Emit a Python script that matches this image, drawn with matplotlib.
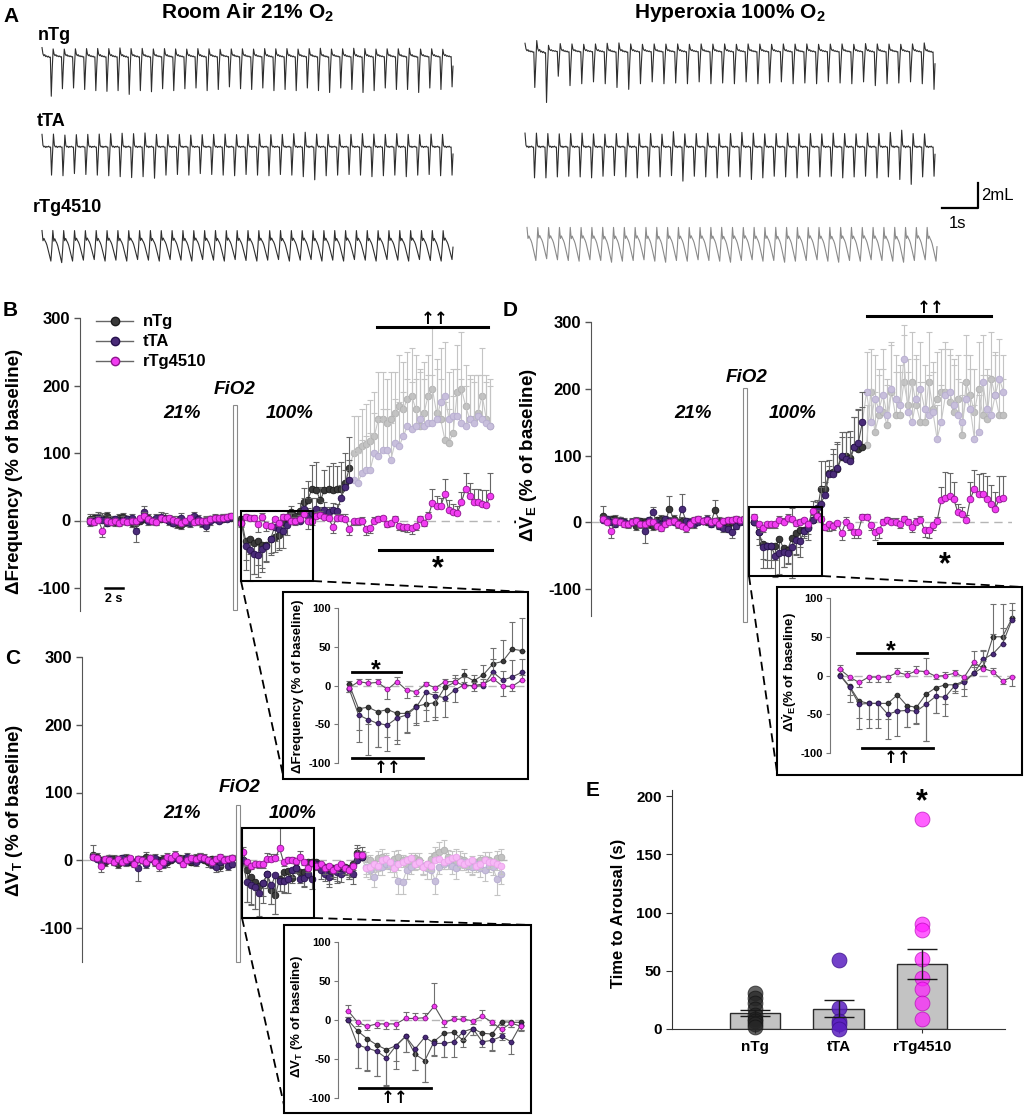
import numpy as np
import matplotlib
matplotlib.use("Agg")
import matplotlib.pyplot as plt
from matplotlib.lines import Line2D
from matplotlib.patches import Rectangle

plt.rcParams["font.family"] = ["Liberation Sans", "DejaVu Sans"]
plt.rcParams["font.weight"] = "bold"
plt.rcParams["axes.unicode_minus"] = False
plt.rcParams["mathtext.fontset"] = "custom"
plt.rcParams["mathtext.rm"] = "Liberation Sans:bold"
plt.rcParams["mathtext.bf"] = "Liberation Sans:bold"
plt.rcParams["mathtext.it"] = "Liberation Sans:bold:italic"

# ---------------- data ----------------
groups = ["nTg", "tTA", "rTg4510"]

# panel A: one-breath shapes and breath depths read per trace
tpl_ntg = [0.18, 0.03, -0.02, 0.01, -0.04, -0.02, -0.05, -0.03, -0.06, -0.05, -1.0, -0.35]
tpl_tta = [0.45, 0.06, 0.0, 0.03, -0.02, 0.02, 0.0, 0.03, -0.01, 0.0, -1.0, -0.25]
tpl_rtg = [0.05, -0.3, -0.22, -0.3, -0.36, -0.45, -0.58, -0.72, -0.86, -1.0, -0.55]
ra_ntg_depth = [1.1, 0.9, 0.88, 0.92, 0.95, 0.97, 0.95, 1.05, 0.95, 0.98, 0.9, 0.95, 0.9, 0.88, 0.95, 0.92,
                0.85, 0.9, 0.92, 0.88, 0.95, 0.92, 0.95, 0.88, 0.95, 1.0, 0.88, 0.92, 1.0, 0.95, 0.88, 0.92,
                0.92, 1.0, 0.88, 0.92, 0.85]
ra_tta_depth = [0.9, 0.92, 0.85, 0.88, 0.9, 0.92, 0.95, 0.98, 0.95, 1.0, 0.9, 0.88, 0.9, 0.85, 0.88, 0.9,
                0.92, 0.88, 0.9, 0.92, 0.88, 0.9, 0.95, 1.05, 0.92, 0.9, 0.88, 0.9, 0.95, 0.92, 0.9, 0.95,
                0.9, 0.88, 0.92, 0.9]
ra_rtg_depth = [0.95, 1.0, 0.95, 0.92, 0.9, 0.95, 0.92, 0.95, 0.9, 0.92, 0.95, 0.9, 0.92, 0.95, 0.9, 0.92,
                0.95, 0.9, 0.93, 0.95, 0.92, 0.9, 0.95, 0.92, 0.9, 0.95, 0.92, 0.95, 0.9, 0.92, 0.95, 0.9,
                0.92, 0.95, 0.9, 0.93, 0.95, 0.9]
ho_ntg_depth = [1.0, 1.4, 0.7, 0.95, 0.9, 0.85, 0.9, 1.0, 1.05, 0.9, 0.85, 0.9, 0.88, 0.9, 0.85, 0.9,
                0.88, 0.9, 0.85, 0.9, 0.88, 0.85, 0.9, 0.88, 0.9, 0.85, 0.88, 0.9, 0.85, 0.95, 0.9, 0.88,
                0.85, 0.9, 1.05]
ho_tta_depth = [0.95, 0.95, 0.92, 0.9, 0.92, 0.95, 0.9, 0.88, 0.92, 0.95, 0.9, 0.92, 0.88, 1.05, 0.9, 0.92,
                0.95, 0.9, 0.92, 1.0, 0.95, 0.9, 0.92, 0.95, 0.9, 0.92, 0.9, 0.95, 0.92, 0.9, 0.95, 0.92,
                1.0, 1.15, 0.92, 0.9]
ho_rtg_depth = [0.9, 0.85, 0.88, 0.9, 0.92, 0.88, 0.9, 0.95, 0.92, 0.9, 0.88, 0.92, 0.95, 0.9, 0.92, 0.88,
                0.9, 0.92, 0.95, 0.9, 0.88, 0.92, 0.9, 0.95, 0.92, 0.9, 0.88, 0.92, 0.95, 0.9, 0.92, 0.88,
                0.9, 0.92, 0.95, 0.9, 0.88, 0.92]

# panel B: delta frequency (% of baseline)
freq_base_ntg = [2, 4, 5, 3, 6, 0, -2, 3, 5, 2, -3, -4, 0, 2, 3, 0, -1, 2, 4, 0, -3, -5, -6, -2, 0, 2, -1, -3, 0, 2, 3, 1, 2, 4, 3]
freq_base_tta = [-2, 0, 3, 1, -3, 0, 2, -1, 0, 2, 4, -15, 2, 13, -1, 0, 3, 5, 2, -1, -3, 0, 4, -2, -4, 6, 2, -3, -8, -1, 2, 0, 3, 2, 5]
freq_base_rtg = [0, -2, 1, -15, 0, -2, 0, -3, -1, -2, 0, -1, 3, 6, 2, 0, -2, 3, 2, 4, 1, 0, -3, -1, 3, -2, -1, 0, 0, 2, 3, 3, 4, 5, 6]
freq_base_err_ntg = [8, 6, 7, 8, 6, 5, 6, 7, 6, 5, 6, 7, 5, 6, 7, 5, 6, 5, 7, 6, 5, 6, 7, 6, 5, 6, 5, 6, 7, 5, 6, 7, 5, 6, 7]
freq_base_err_tta = [6, 5, 6, 7, 5, 6, 5, 6, 7, 5, 6, 17, 5, 8, 6, 5, 6, 7, 5, 6, 5, 6, 7, 5, 6, 7, 6, 5, 7, 6, 5, 6, 7, 5, 6]
freq_base_err_rtg = [5, 4, 5, 10, 4, 5, 4, 5, 4, 5, 4, 5, 4, 6, 5, 4, 5, 4, 5, 4, 5, 4, 5, 4, 5, 4, 5, 4, 5, 4, 5, 4, 5, 4, 5]
freq_zoom_ntg = [2, -30, -28, -34, -31, -36, -36, -27, -24, -22, -2, 4, 13, 6, 14, 28, 31, 47, 45]
freq_zoom_tta = [-4, -38, -44, -49, -51, -42, -38, -28, -9, -13, -16, -6, 1, -1, 0, 17, 7, 11, 17]
freq_zoom_rtg = [-3, 5, 3, 4, -5, 5, -6, -8, 2, -3, 5, 5, 0, 0, 2, 9, -1, -1, 7]
freq_zoom_err_ntg = [4, 43, 22, 45, 35, 40, 25, 24, 22, 22, 18, 10, 8, 8, 12, 20, 28, 35, 42]
freq_zoom_err_tta = [5, 20, 46, 30, 33, 28, 22, 20, 22, 28, 25, 15, 10, 6, 5, 17, 12, 22, 17]
freq_zoom_err_rtg = [5, 4, 5, 4, 12, 6, 10, 5, 3, 5, 4, 5, 5, 5, 6, 6, 12, 6, 6]
freq_after_ntg = [30, 45, 46, 45, 46, 47, 55, 78, 100, 105, 110, 113, 118, 125, 150, 150, 145, 150, 160, 170, 165,
                  180, 185, 165, 140, 160, 185, 195, 160, 150, 120, 115, 130, 190, 195, 170, 150, 150, 160, 185, 150, 140]
freq_after_tta = [10, 15, 12, 16, 14, 33, 50, 60, 60, 55, 70, 75, 75, 100, 95, 105, 105, 90, 115, 110, 125,
                  140, 135, 140, 150, 140, 145, 145, 150, 175, 185, 150, 155, 155, 145, 140, 150, 145, 155, 150, 145, 140]
freq_after_rtg = [8, 5, 3, -9, 4, 4, 2, -12, -1, -1, 0, -12, -11, 0, 2, 3, -5, -3, 2, -8, -9,
                  -9, -11, -8, 2, -3, 6, 26, 22, 21, 39, 15, 13, 11, 27, 47, 36, 28, 28, 25, 23, 37]
freq_after_err_ntg = [20, 30, 35, 40, 35, 40, 45, 45, 55, 50, 55, 60, 60, 65, 70, 70, 65, 70, 60, 75, 70,
                      70, 70, 80, 80, 75, 60, 90, 80, 60, 55, 50, 55, 70, 85, 60, 60, 65, 55, 70, 65, 70]
freq_after_err_tta = [10, 12, 8, 10, 10, 20, 25, 30, 45, 45, 50, 50, 55, 60, 55, 60, 60, 55, 65, 65, 65,
                      70, 70, 70, 75, 70, 70, 70, 75, 80, 80, 70, 70, 70, 65, 60, 65, 60, 60, 65, 60, 60]
freq_after_err_rtg = [6, 5, 5, 10, 6, 6, 8, 10, 5, 5, 5, 10, 8, 5, 5, 4, 5, 5, 5, 6, 7,
                      8, 9, 6, 5, 5, 6, 20, 15, 12, 22, 15, 12, 10, 15, 23, 20, 18, 18, 20, 22, 33]

# panel C: delta tidal volume (% of baseline)
vt_base_ntg = [8, 5, 0, -3, 3, 2, -5, 0, 3, -2, -3, 2, 0, 5, 3, -2, 0, 2, -3, 0, 5, 3, 2, 0, -2, 3, 5, 0, -3, 2, -5, -8, 2, 0, 3]
vt_base_tta = [5, 2, -3, 0, 2, -2, 0, 3, -2, 0, -3, -12, 0, -5, 2, 3, -2, -5, 0, 2, 3, 0, -2, 5, 0, -3, 2, 3, 0, -5, -10, -3, 0, -8, -5]
vt_base_rtg = [5, 3, -8, 2, 0, -3, 2, -2, 0, 3, -5, 2, 0, -2, 3, -3, -8, -2, 5, 3, 8, 2, -5, 0, 3, 2, 5, 3, 0, -3, 2, 5, 0, 2, 3]
vt_base_err_ntg = [15, 6, 5, 6, 5, 6, 7, 5, 6, 5, 6, 5, 6, 7, 5, 6, 5, 6, 7, 5, 6, 5, 6, 7, 5, 6, 5, 6, 7, 5, 6, 8, 5, 6, 5]
vt_base_err_tta = [6, 5, 6, 5, 6, 5, 6, 5, 6, 5, 6, 18, 5, 6, 5, 6, 5, 6, 5, 6, 5, 6, 5, 6, 5, 6, 5, 6, 5, 6, 7, 5, 6, 7, 5]
vt_base_err_rtg = [5, 4, 10, 4, 5, 4, 5, 4, 5, 4, 5, 4, 5, 4, 5, 4, 8, 4, 5, 4, 5, 4, 5, 4, 5, 4, 5, 4, 5, 4, 5, 4, 5, 4, 5]
vt_zoom_ntg = [0, -14, -24, -32, -38, -33, -21, -44, -52, -27, -17, -16, -26, -11, -17, -18, -2, -3, -3]
vt_zoom_tta = [0, -32, -36, -40, -49, -33, -21, -37, -22, -30, -30, -28, -15, -11, -28, -26, -21, -28, -6]
vt_zoom_rtg = [12, -3, -8, -5, -5, -5, 2, 2, 3, 18, -3, 1, 1, -1, 5, -3, -12, -4, -8]
vt_zoom_err_ntg = [4, 48, 40, 40, 45, 30, 20, 20, 28, 18, 30, 12, 8, 8, 10, 22, 5, 6, 10]
vt_zoom_err_tta = [4, 30, 30, 32, 35, 20, 20, 27, 58, 16, 18, 20, 10, 8, 6, 12, 5, 15, 8]
vt_zoom_err_rtg = [7, 5, 5, 5, 6, 7, 8, 7, 6, 30, 6, 4, 4, 4, 8, 4, 5, 5, 5]
vt_after_ntg = [-8, -10, -20, -12, -15, -8, -10, -12, -5, 10, 5, 2, 0, -5, 3, 5, 0, -3, 2, 5, 0, -5, -2,
                3, 0, -8, -5, 2, 8, 12, 15, 5, 0, -3, 2, 0, -5, -8, -3, 0, 2, 0, -3, 3, 5]
vt_after_tta = [-15, -20, -25, -15, -18, -20, -12, -15, -20, 0, 5, -10, -15, -25, -12, -10, -5, -8, -5, -30, -32, -15,
                -10, -5, -3, -8, -12, -15, -30, -10, -5, -3, -8, -12, -5, -3, -8, -10, -5, -12, -15, -8, -10, -27, -20]
vt_after_rtg = [-5, -12, -8, -15, -10, -5, -12, -15, -8, 8, 8, -12, -10, -5, -8, 0, 2, -3, -12, -5, -2, 0, 3,
                -5, -2, -10, -5, -8, 0, 2, -3, 0, 3, 5, -2, -5, -3, 0, -8, -5, 0, -3, -2, -5, -8]
vt_after_err_ntg = [8, 10, 15, 12, 15, 10, 12, 15, 20, 12, 8, 10, 8, 12, 10, 12, 8, 10, 12, 10, 8, 12, 10,
                    8, 10, 12, 10, 8, 12, 15, 15, 10, 8, 10, 12, 10, 8, 12, 10, 8, 10, 12, 8, 10, 12]
vt_after_err_tta = [12, 10, 15, 12, 15, 12, 10, 12, 15, 10, 8, 10, 12, 15, 10, 12, 8, 10, 12, 20, 18, 12,
                    10, 8, 10, 12, 15, 12, 20, 10, 8, 10, 12, 15, 10, 8, 10, 12, 10, 12, 15, 10, 12, 25, 15]
vt_after_err_rtg = [5, 8, 6, 10, 8, 6, 8, 10, 6, 10, 12, 12, 10, 8, 8, 6, 8, 8, 12, 10, 8, 6, 8,
                    10, 8, 12, 10, 8, 6, 8, 10, 8, 10, 12, 8, 10, 8, 6, 10, 8, 6, 8, 6, 10, 12]

# panel D: delta minute ventilation (% of baseline)
ve_base_ntg = [10, 3, 5, 5, 3, 0, -2, 0, -5, 2, 0, -3, -5, 3, 5, 0, 20, 5, 0, 2, -3, -2, 0, 3, 2, 0, 0, 18, 2, -2, -5, 0, 3, 2, 0]
ve_base_tta = [3, 5, 0, -2, 2, 0, -3, 0, 2, -3, -13, 3, 15, 0, -2, 5, 2, 0, -3, 20, 2, 0, -3, 0, 2, 5, -2, 0, -5, -8, -10, -15, -5, 0, 2]
ve_base_rtg = [5, 0, -13, 2, 0, -3, -2, 0, 2, -3, -2, 0, 0, -5, -8, -3, 0, 2, -2, -5, -8, -3, 3, 5, 2, 3, 0, 2, -2, 2, 3, 4, 5, 3, 5]
ve_base_err_ntg = [15, 6, 5, 6, 5, 6, 5, 6, 7, 5, 6, 5, 6, 5, 6, 5, 20, 6, 5, 6, 5, 6, 5, 6, 5, 6, 5, 15, 6, 5, 6, 5, 6, 5, 6]
ve_base_err_tta = [6, 5, 6, 5, 6, 5, 6, 5, 6, 5, 18, 5, 8, 5, 6, 5, 6, 5, 6, 22, 5, 6, 5, 6, 5, 6, 5, 6, 5, 6, 5, 8, 5, 6, 5]
ve_base_err_rtg = [5, 4, 10, 4, 5, 4, 5, 4, 5, 4, 5, 4, 5, 4, 5, 4, 5, 4, 5, 4, 6, 4, 5, 4, 5, 4, 5, 4, 5, 4, 5, 4, 5, 4, 5]
ve_zoom_ntg = [1, -14, -33, -36, -36, -36, -25, -39, -41, -24, -16, -12, -12, -7, 3, 11, 50, 50, 74]
ve_zoom_tta = [0, -15, -37, -36, -36, -50, -46, -45, -46, -37, -27, -28, -13, -9, 3, 21, 28, 41, 72]
ve_zoom_rtg = [8, -2, -9, -2, -2, -2, 4, 1, 6, 5, -1, 0, 3, -2, 17, 9, 5, -7, -2]
ve_zoom_err_ntg = [6, 20, 22, 20, 20, 20, 20, 28, 20, 60, 32, 25, 8, 20, 10, 20, 42, 42, 20]
ve_zoom_err_tta = [8, 10, 32, 32, 32, 32, 32, 22, 17, 47, 22, 24, 10, 8, 8, 12, 25, 20, 12]
ve_zoom_err_rtg = [5, 4, 6, 6, 6, 7, 6, 5, 6, 17, 4, 5, 4, 4, 15, 10, 5, 4, 11]
ve_after_ntg = [75, 80, 98, 100, 97, 113, 110, 112, 115, 195, 135, 160, 165, 145, 195, 160, 160, 210, 175, 210, 175,
                150, 150, 210, 170, 185, 195, 195, 180, 165, 185, 130, 210, 190, 165, 200, 160, 155, 215, 190, 160, 160]
ve_after_tta = [72, 82, 100, 95, 92, 112, 118, 150, 195, 150, 185, 170, 190, 160, 200, 185, 175, 245, 165, 150, 185,
                200, 170, 160, 165, 125, 150, 190, 195, 175, 160, 150, 185, 170, 125, 135, 210, 170, 160, 190, 215, 195]
ve_after_rtg = [-6, -1, -16, 0, -6, -14, -14, 8, 8, -4, -14, -12, 0, 3, 1, 1, -2, 5, 0, -7, 1,
                4, -12, -12, -4, 2, 33, 37, 39, 35, 15, 13, 3, 35, 50, 43, 42, 35, 28, 20, 35, 36]
ve_after_err_ntg = [35, 40, 30, 35, 40, 45, 60, 60, 60, 65, 60, 60, 65, 60, 70, 65, 65, 70, 70, 75, 70,
                    60, 60, 75, 70, 70, 65, 75, 70, 70, 65, 60, 70, 60, 65, 70, 60, 65, 70, 60, 55, 55]
ve_after_err_tta = [30, 35, 35, 40, 35, 45, 50, 45, 60, 50, 65, 60, 70, 55, 70, 65, 60, 50, 60, 55, 65,
                    70, 65, 60, 60, 50, 55, 70, 65, 70, 55, 60, 65, 60, 50, 55, 70, 60, 55, 65, 60, 55]
ve_after_err_rtg = [6, 5, 10, 8, 6, 10, 10, 5, 5, 8, 12, 12, 5, 5, 5, 5, 6, 5, 5, 8, 6,
                    5, 10, 12, 8, 6, 20, 38, 35, 25, 12, 10, 8, 25, 28, 30, 32, 35, 28, 25, 35, 33]

# panel E: time to arousal (s)
arousal_ntg = [31, 27, 22, 17, 12, 9, 7, 4, 2]
arousal_tta = [59, 18, 7, 4, 0]
arousal_rtg = [180, 90, 85, 60, 44, 34, 22, 9]
arousal_mean = [14, 17.5, 56]
arousal_sem = [2.5, 7.5, 13]

# ---------------- layout helpers ----------------
W, H = 1024, 1115
fig = plt.figure(figsize=(W / 100, H / 100), dpi=100)


def fx(px):
    return px / W


def fy(py):
    return 1 - py / H


def px_axes(x0, y0, x1, y1):
    return fig.add_axes([fx(x0), fy(y1), (x1 - x0) / W, (y1 - y0) / H])


def fig_line(xs, ys, **kw):
    fig.add_artist(Line2D([fx(v) for v in xs], [fy(v) for v in ys], **kw))


def fig_rect(x0, y0, x1, y1, **kw):
    fig.add_artist(Rectangle((fx(x0), fy(y1)), (x1 - x0) / W, (y1 - y0) / H,
                             transform=fig.transFigure, **kw))


def fig_text(px, py, s, **kw):
    fig.text(fx(px), fy(py), s, **kw)


def y_limits(top_px, bot_px, v_hi, px_hi, v_lo, px_lo):
    scale = (px_lo - px_hi) / (v_hi - v_lo)
    return v_lo - (bot_px - px_lo) / scale, v_hi + (px_hi - top_px) / scale


FULL = {"nTg": ("#3a3a3a", "#1c1c1c"), "tTA": ("#4a2b78", "#26104d"), "rTg4510": ("#f23cf2", "#8e158e")}
FADED = {"nTg": ("#c2c2c2", "#b0b0b0"), "tTA": ("#c8bfdc", "#b6acd0"), "rTg4510": ("#f7b8f7", "#eaa2ea")}


def draw_group(ax, x, y, e, face, edge, ms, cap, z, lc, ec, line_from=None):
    x = np.asarray(x, float)
    y = np.asarray(y, float)
    e = np.asarray(e, float)
    lo = np.where(y < 0, e, 0)
    hi = np.where(y >= 0, e, 0)
    ax.errorbar(x, y, yerr=[lo, hi], fmt="none", ecolor=ec, elinewidth=0.8,
                capsize=cap, capthick=0.8, zorder=z)
    if line_from is not None:
        ax.plot(np.r_[line_from[0], x], np.r_[line_from[1], y], "-", color=lc, lw=0.8, zorder=z + 0.1)
    else:
        ax.plot(x, y, "-", color=lc, lw=0.8, zorder=z + 0.1)
    ax.plot(x, y, "o", ms=ms, mfc=face, mec=edge, mew=0.6, zorder=z + 0.2)


def time_panel(ax, base, base_err, zoom, zoom_err, after, after_err, fade):
    ax.axhline(0, color="#b5b5b5", lw=1, ls=(0, (6, 4)), zorder=1)
    hyp = [list(z) + list(a) for z, a in zip(zoom, after)]
    hyp_err = [list(z) + list(a) for z, a in zip(zoom_err, after_err)]
    for g, name in enumerate(groups):
        k = fade[g]
        xh = 36.5 + np.arange(len(hyp[g]))
        if k < len(hyp[g]):
            face, edge = FADED[name]
            draw_group(ax, xh[k:], hyp[g][k:], hyp_err[g][k:], face, edge, 4.8, 2.2, 2 + 0.3 * g,
                       "#c8c8c8", "#c4c4c4", line_from=(xh[k - 1], hyp[g][k - 1]))
    for g, name in enumerate(groups):
        k = fade[g]
        face, edge = FULL[name]
        xb = np.arange(len(base[g]))
        xh = 36.5 + np.arange(len(hyp[g]))
        draw_group(ax, xb, base[g], base_err[g], face, edge, 4.8, 2.2, 3 + g, "#555555", "#666666")
        draw_group(ax, xh[:k], hyp[g][:k], hyp_err[g][:k], face, edge, 4.8, 2.2, 3 + g, "#555555", "#666666")
    for side in ["top", "right", "bottom"]:
        ax.spines[side].set_visible(False)
    ax.spines["left"].set_color("#555555")
    ax.set_xticks([])
    ax.set_yticks([-100, 0, 100, 200, 300])
    ax.tick_params(axis="y", labelsize=12, length=4, width=1, color="#555555", pad=3)
    ax.patch.set_alpha(0)


def inset_panel(left, right, px100, pxm100, x0_px, dx_px, vals, errs):
    ax = px_axes(left, px100 - 10, right, pxm100 + 10)
    ax.set_ylim(*y_limits(px100 - 10, pxm100 + 10, 100, px100, -100, pxm100))
    ax.set_xlim((left - x0_px) / dx_px, (right - x0_px) / dx_px)
    ax.plot([0, 20], [0, 0], color="#b5b5b5", lw=1, ls=(0, (6, 4)), zorder=1)
    xs = np.arange(len(vals[0]))
    for g, name in enumerate(groups):
        face, edge = FULL[name]
        draw_group(ax, xs, vals[g], errs[g], face, edge, 3.4, 2.0, 3 + g, "#555555", "#707070")
    for side in ["top", "right", "bottom"]:
        ax.spines[side].set_visible(False)
    ax.spines["left"].set_color("#777777")
    ax.spines["left"].set_bounds(-100, 100)
    ax.set_xticks([])
    ax.set_yticks([-100, -50, 0, 50, 100])
    ax.tick_params(axis="y", labelsize=8, length=3, width=0.8, color="#777777", pad=2)
    ax.patch.set_alpha(0)
    return ax


BIG = dict(fontsize=13.5, fontweight="bold", rotation=90, ha="center", va="center")
SMALL = dict(fontsize=9.5, fontweight="bold", rotation=90, ha="center", va="center")
ITAL = dict(fontsize=13.5, fontweight="bold", style="italic", ha="center", va="center")
ARROWS = dict(fontsize=12, fontweight="bold", ha="center", family=["DejaVu Sans"])

# ---------------- panel A ----------------
ax_a = px_axes(0, 0, W, 290)
ax_a.set_xlim(0, W / 36)
ax_a.set_ylim(-290 / 12.5, 0)
ax_a.axis("off")

traces = [
    (42, 453, 55, tpl_ntg, ra_ntg_depth, 3.0, "#2e2e2e"),
    (42, 453, 147, tpl_tta, ra_tta_depth, 2.5, "#2e2e2e"),
    (42, 453, 232, tpl_rtg, ra_rtg_depth, 2.45, "#2e2e2e"),
    (525, 935, 50, tpl_ntg, ho_ntg_depth, 3.0, "#2e2e2e"),
    (525, 935, 147, tpl_tta, ho_tta_depth, 2.6, "#2e2e2e"),
    (527, 937, 229, tpl_rtg, ho_rtg_depth, 2.8, "#8a8a8a"),
]
for x0, x1, py, tpl, depths, amp, col in traces:
    y = np.concatenate([np.asarray(tpl) * d for d in depths]) * amp - py / 12.5
    x = np.linspace(x0 / 36, x1 / 36, len(y))
    ax_a.plot(x, y, color=col, lw=0.8)

ax_a.plot([942 / 36, 978 / 36, 978 / 36], [-208 / 12.5, -208 / 12.5, -208 / 12.5 + 2], color="black", lw=1.6)
fig_text(981, 196, "2mL", fontsize=12, fontweight="normal", va="center")
fig_text(958, 223, "1s", fontsize=12, fontweight="normal", ha="center", va="center")
fig_text(3, 16, "A", fontsize=15, va="center")
fig_text(248, 13, r"Room Air 21% O$_\mathbf{2}$", fontsize=15, ha="center", va="center")
fig_text(730, 13, r"Hyperoxia 100% O$_\mathbf{2}$", fontsize=15, ha="center", va="center")
fig_text(38, 36, "nTg", fontsize=13, va="center")
fig_text(37, 121, "tTA", fontsize=13, va="center")
fig_text(33, 208, "rTg4510", fontsize=13, va="center")

# ---------------- panel B ----------------
ax_b = px_axes(80, 300, 500, 612)
ax_b.set_ylim(*y_limits(300, 612, 300, 318, -100, 588))
ax_b.set_xlim((80 - 90) / 4.15, (500 - 90) / 4.15)
time_panel(ax_b,
           [freq_base_ntg, freq_base_tta, freq_base_rtg],
           [freq_base_err_ntg, freq_base_err_tta, freq_base_err_rtg],
           [freq_zoom_ntg, freq_zoom_tta, freq_zoom_rtg],
           [freq_zoom_err_ntg, freq_zoom_err_tta, freq_zoom_err_rtg],
           [freq_after_ntg, freq_after_tta, freq_after_rtg],
           [freq_after_err_ntg, freq_after_err_tta, freq_after_err_rtg],
           fade=[27, 27, 99])
ax_b.spines["left"].set_bounds(-134, 300)
handles = [Line2D([], [], color="#666666", lw=1, marker="o", ms=6, mfc=FULL[n][0], mec=FULL[n][1])
           for n in groups]
ax_b.legend(handles, groups, loc="upper left", bbox_to_anchor=(fx(88), fy(306)),
            bbox_transform=fig.transFigure, frameon=False, handlelength=2.2, handletextpad=0.6,
            labelspacing=0.3, borderpad=0, prop=dict(size=12, weight="bold"))
fig_text(3, 311, "B", fontsize=15, va="center")
fig_text(15, 471, "ΔFrequency (% of baseline)", **BIG)
fig_rect(233, 405, 237, 610, fc="white", ec="#8a8a8a", lw=0.8)
fig_text(235, 389, "FiO2", **ITAL)
fig_text(182, 414, "21%", **ITAL)
fig_text(290, 414, "100%", **ITAL)
fig_line([105, 123], [588, 588], color="black", lw=1.8)
fig_text(114, 599, "2 s", fontsize=9, ha="center", va="center")
fig_line([377, 488], [327, 327], color="black", lw=2.2)
fig_text(435, 328, "↑↑", va="bottom", **ARROWS)
fig_line([379, 492], [550, 550], color="black", lw=2.2)
fig_text(438, 569, "*", fontsize=22, ha="center", va="center")

# ---------------- panel C ----------------
ax_c = px_axes(82, 640, 510, 964)
ax_c.set_ylim(*y_limits(640, 964, 300, 657, -100, 928))
ax_c.set_xlim((82 - 93) / 4.1, (510 - 93) / 4.1)
time_panel(ax_c,
           [vt_base_ntg, vt_base_tta, vt_base_rtg],
           [vt_base_err_ntg, vt_base_err_tta, vt_base_err_rtg],
           [vt_zoom_ntg, vt_zoom_tta, vt_zoom_rtg],
           [vt_zoom_err_ntg, vt_zoom_err_tta, vt_zoom_err_rtg],
           [vt_after_ntg, vt_after_tta, vt_after_rtg],
           [vt_after_err_ntg, vt_after_err_tta, vt_after_err_rtg],
           fade=[30, 30, 30])
ax_c.spines["left"].set_bounds(-150, 300)
fig_text(5, 659, "C", fontsize=15, va="center")
fig_text(15, 810, r"ΔV$_\mathbf{T}$ (% of baseline)", **BIG)
fig_rect(236, 805, 240, 962, fc="white", ec="#8a8a8a", lw=0.8)
fig_text(240, 788, "FiO2", **ITAL)
fig_text(182, 813, "21%", **ITAL)
fig_text(293, 813, "100%", **ITAL)

# ---------------- panel D ----------------
ax_d = px_axes(591, 300, 1012, 622)
ax_d.set_ylim(*y_limits(300, 622, 300, 322, -100, 589))
ax_d.set_xlim((591 - 603) / 4.15, (1012 - 603) / 4.15)
time_panel(ax_d,
           [ve_base_ntg, ve_base_tta, ve_base_rtg],
           [ve_base_err_ntg, ve_base_err_tta, ve_base_err_rtg],
           [ve_zoom_ntg, ve_zoom_tta, ve_zoom_rtg],
           [ve_zoom_err_ntg, ve_zoom_err_tta, ve_zoom_err_rtg],
           [ve_after_ntg, ve_after_tta, ve_after_rtg],
           [ve_after_err_ntg, ve_after_err_tta, ve_after_err_rtg],
           fade=[27, 27, 99])
ax_d.spines["left"].set_bounds(-140, 300)
fig_text(503, 311, "D", fontsize=15, va="center")
fig_text(527, 455, r"Δ$\dot{\mathbf{V}}_\mathbf{E}$ (% of baseline)", **BIG)
fig_rect(743, 388, 747, 622, fc="white", ec="#8a8a8a", lw=0.8)
fig_text(747, 378, "FiO2", **ITAL)
fig_text(693, 414, "21%", **ITAL)
fig_text(793, 414, "100%", **ITAL)
fig_line([867, 991], [316, 316], color="black", lw=2.2)
fig_text(931, 317, "↑↑", va="bottom", **ARROWS)
fig_line([878, 1002], [543, 543], color="black", lw=2.2)
fig_text(945, 565, "*", fontsize=22, ha="center", va="center")

# ---------------- zoom boxes and insets ----------------
fig_rect(241, 511, 313, 581, fc="none", ec="black", lw=1.5)
fig_rect(242, 828, 314, 918, fc="none", ec="black", lw=1.5)
fig_rect(749, 507, 822, 576, fc="none", ec="black", lw=1.5)
fig_rect(283, 592, 528, 779, fc="none", ec="black", lw=1.5)
fig_rect(284, 925, 531, 1113, fc="none", ec="black", lw=1.5)
fig_rect(777, 587, 1022, 775, fc="none", ec="black", lw=1.5)
dash = dict(color="black", lw=1.3, ls=(0, (5, 3)))
fig_line([313, 528], [581, 592], **dash)
fig_line([241, 283], [581, 775], **dash)
fig_line([314, 531], [918, 925], **dash)
fig_line([242, 284], [918, 1105], **dash)
fig_line([822, 1022], [576, 587], **dash)
fig_line([749, 777], [576, 772], **dash)

inset_panel(338, 526, 608, 763, 349, 9.6,
            [freq_zoom_ntg, freq_zoom_tta, freq_zoom_rtg],
            [freq_zoom_err_ntg, freq_zoom_err_tta, freq_zoom_err_rtg])
fig_text(298, 686, "ΔFrequency (% of baseline)", **SMALL)
fig_line([352, 401], [672, 672], color="black", lw=2)
fig_text(376, 670, "*", fontsize=18, ha="center", va="center")
fig_line([352, 423], [758, 758], color="black", lw=2)
fig_text(388, 759, "↑↑", va="top", **ARROWS)

inset_panel(338, 529, 942, 1098, 348, 9.6,
            [vt_zoom_ntg, vt_zoom_tta, vt_zoom_rtg],
            [vt_zoom_err_ntg, vt_zoom_err_tta, vt_zoom_err_rtg])
fig_text(297, 1016, r"ΔV$_\mathbf{T}$ (% of baseline)", **SMALL)
fig_line([359, 431], [1088, 1088], color="black", lw=2)
fig_text(395, 1089, "↑↑", va="top", **ARROWS)

inset_panel(830, 1020, 598, 753, 840, 9.56,
            [ve_zoom_ntg, ve_zoom_tta, ve_zoom_rtg],
            [ve_zoom_err_ntg, ve_zoom_err_tta, ve_zoom_err_rtg])
fig_text(790, 672, r"Δ$\dot{\mathbf{V}}_\mathbf{E}$(% of baseline)", **SMALL)
fig_line([857, 927], [653, 653], color="black", lw=2)
fig_text(891, 651, "*", fontsize=18, ha="center", va="center")
fig_line([862, 933], [748, 748], color="black", lw=2)
fig_text(898, 749, "↑↑", va="top", **ARROWS)

# ---------------- panel E ----------------
ax_e = px_axes(672, 790, 1005, 1029)
ax_e.set_ylim(0, 200 + 6 / 1.165)
ax_e.set_xlim((672 - 755) / 83.5, (1005 - 755) / 83.5)
ax_e.bar(range(3), arousal_mean, width=0.61, color="#c3c3c3", edgecolor="#2b2b2b", lw=1, zorder=2)
dot_style = [("#262626", "#111111", 0.72), ("#5a1fc0", "#3b0f8a", 0.85), ("#ff1cff", "#b000b0", 0.7)]
for i, pts in enumerate([arousal_ntg, arousal_tta, arousal_rtg]):
    fc, ec, al = dot_style[i]
    ax_e.scatter([i] * len(pts), pts, s=115, c=fc, edgecolors=ec, linewidths=0.6, alpha=al,
                 zorder=3, clip_on=False)
ax_e.errorbar(range(3), arousal_mean, yerr=arousal_sem, fmt="none", ecolor="#1a1a1a",
              elinewidth=1, capsize=10.5, capthick=1, zorder=4)
for side in ["top", "right"]:
    ax_e.spines[side].set_visible(False)
ax_e.spines["left"].set_color("#333333")
ax_e.spines["bottom"].set_color("#333333")
ax_e.set_yticks([0, 50, 100, 150, 200])
ax_e.set_xticks(range(3))
ax_e.set_xticklabels(groups)
ax_e.tick_params(axis="y", labelsize=11, length=4, color="#333333")
ax_e.tick_params(axis="x", labelsize=11, length=3, color="#333333", pad=5)
ax_e.patch.set_alpha(0)
fig_text(586, 791, "E", fontsize=15, va="center")
fig_text(618, 913, "Time to Arousal (s)", fontsize=12, fontweight="bold", rotation=90,
         ha="center", va="center")
fig_text(922, 802, "*", fontsize=22, ha="center", va="center")

fig.savefig("out.png", dpi=100)
